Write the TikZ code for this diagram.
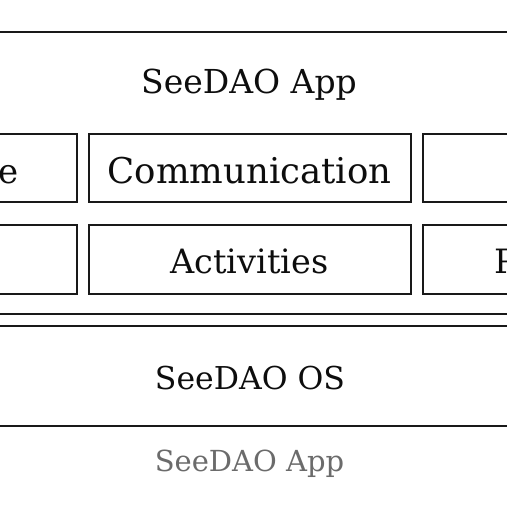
\documentclass[tikz,border=0pt]{standalone}
\usepackage{fontspec}
\setmainfont{DejaVu Serif}
\begin{document}
\begin{tikzpicture}[x=1pt,y=1pt,
  frame/.style={draw=black!90, line width=1.8pt, inner sep=0pt, minimum width=560pt},
  cell/.style={draw=black!90, line width=1.8pt, minimum width=322pt, minimum height=68.5pt, inner sep=0pt},
  lbl/.style={anchor=base, inner sep=0pt, text=black!95},
  captext/.style={anchor=base, inner sep=0pt, text=black!58}]
\useasboundingbox (0,0) rectangle (507,506);
\clip (0,0) rectangle (507,506);
% outer boxes
\node[frame, minimum height=282pt] (app) at (253.5,333) {};
\node[frame, minimum height=100pt] (os) at (253.5,130) {};
% row 1
\node[cell] (r1l) at (-84,338) {};
\node[cell] (r1m) at (250,338) {};
\node[cell] (r1r) at (584,338) {};
% row 2
\node[cell] (r2l) at (-84,246.5) {};
\node[cell] (r2m) at (250,246.5) {};
\node[cell] (r2r) at (584,246.5) {};
% texts
\node[lbl, font=\fontsize{33}{38}\selectfont] (tapp) at (249,412) {SeeDAO App};
\node[lbl, font=\fontsize{35.5}{40}\selectfont] (tcomm) at (249.5,322) {Communication};
\node[lbl, font=\fontsize{33.5}{38}\selectfont] (tact) at (249.5,232) {Activities};
\node[lbl, font=\fontsize{34}{40}\selectfont, anchor=base west] (te) at (-1.5,322) {e};
\node[lbl, font=\fontsize{33.5}{38}\selectfont, anchor=base west] (tp) at (494,232) {P};
\node[lbl, font=\fontsize{31.5}{36}\selectfont] (tos) at (250,116) {SeeDAO OS};
\node[captext, font=\fontsize{29}{34}\selectfont] (tcap) at (249.5,34) {SeeDAO App};
\end{tikzpicture}
\end{document}
